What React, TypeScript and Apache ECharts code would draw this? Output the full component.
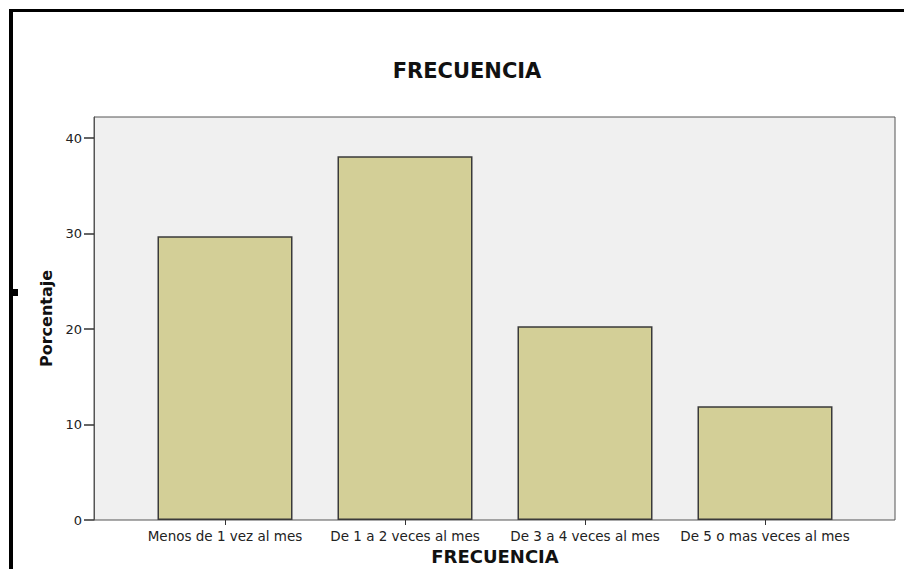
import React, { useEffect, useRef } from "react";
import * as echarts from "echarts";

const categories = [
  "Menos de 1 vez al mes",
  "De 1 a 2 veces al mes",
  "De 3 a 4 veces al mes",
  "De 5 o mas veces al mes",
];
const percentages = [29.7, 38.1, 20.3, 11.9];
const yMin = 0;
const yMax = 42.2;
const yInterval = 10;
const titleText = "FRECUENCIA";
const xAxisName = "FRECUENCIA";
const yAxisName = "Porcentaje";

const FONT = "DejaVu Sans";

export default function App() {
  const ref = useRef<HTMLDivElement>(null);

  useEffect(() => {
    if (!ref.current) return;
    const chart = echarts.init(ref.current, undefined, { renderer: "svg" });
    chart.setOption({
      animation: false,
      backgroundColor: "#ffffff",
      textStyle: { fontFamily: FONT },
      title: {
        text: titleText,
        left: 462,
        textAlign: "center",
        top: 55,
        textStyle: { fontFamily: FONT, fontSize: 21, fontWeight: "bold", color: "#111" },
      },
      graphic: [
        { type: "rect", shape: { x: 9, y: 9, width: 4, height: 560 }, style: { fill: "#000" } },
        { type: "rect", shape: { x: 9, y: 9, width: 895, height: 3 }, style: { fill: "#000" } },
        { type: "rect", shape: { x: 13, y: 289, width: 5, height: 7 }, style: { fill: "#000" } },
      ],
      grid: [
        {
          left: 94,
          right: 9,
          top: 117,
          bottom: 49,
          show: true,
          backgroundColor: "#f0f0f0",
          borderColor: "#555",
          borderWidth: 1,
          containLabel: false,
          outerBoundsMode: "none",
        },
        {
          left: 135,
          right: 49,
          top: 117,
          bottom: 49,
          containLabel: false,
          outerBoundsMode: "none",
        },
      ],
      xAxis: [
        { gridIndex: 0, type: "value", show: false },
        {
          gridIndex: 1,
          type: "category",
          data: categories,
          boundaryGap: true,
          axisLine: { show: false },
          axisTick: { show: true, alignWithLabel: true, length: 5, lineStyle: { color: "#333" } },
          axisLabel: { fontFamily: FONT, fontSize: 13.5, color: "#222", margin: 9, interval: 0 },
          name: xAxisName,
          nameLocation: "middle",
          nameGap: 27,
          nameTextStyle: { fontFamily: FONT, fontSize: 18, fontWeight: "bold", color: "#111" },
        },
      ],
      yAxis: [
        {
          gridIndex: 0,
          type: "value",
          min: yMin,
          max: yMax,
          interval: yInterval,
          splitLine: { show: false },
          axisLine: { show: true, lineStyle: { color: "#555" } },
          axisTick: { show: true, length: 10, lineStyle: { color: "#333", width: 1.5 } },
          axisLabel: {
            fontFamily: FONT,
            fontSize: 13,
            color: "#222",
            margin: 12,
            showMaxLabel: false,
          },
          name: yAxisName,
          nameLocation: "middle",
          nameGap: 36,
          nameTextStyle: { fontFamily: FONT, fontSize: 16, fontWeight: "bold", color: "#111" },
        },
        {
          gridIndex: 1,
          type: "value",
          min: yMin,
          max: yMax,
          show: false,
        },
      ],
      series: [
        {
          type: "bar",
          xAxisIndex: 1,
          yAxisIndex: 1,
          data: percentages,
          barWidth: "75%",
          itemStyle: { color: "#d3cf97", borderColor: "#3a3a3a", borderWidth: 1.5 },
        },
      ],
    });
    return () => chart.dispose();
  }, []);

  return (
    <div
      ref={ref}
      style={{ position: "fixed", left: 0, top: 0, width: 904, height: 569, background: "#fff" }}
    />
  );
}
